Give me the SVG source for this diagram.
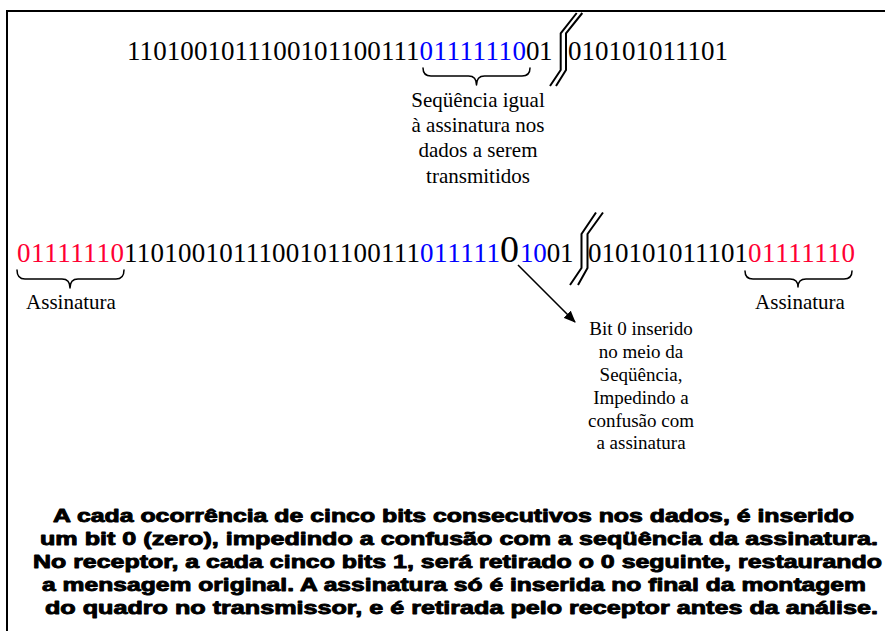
<svg xmlns="http://www.w3.org/2000/svg" width="885" height="631" viewBox="0 0 885 631">
  <style>
    .bits { font-family: "Liberation Serif", "Times New Roman", serif; font-size: 27px; fill: #000; }
    .blue { fill: #0000ff; }
    .red { fill: #ff0033; }
    .label { font-family: "Liberation Serif", "Times New Roman", serif; font-size: 21px; fill: #000; text-anchor: middle; }
    .note { font-family: "Liberation Serif", "Times New Roman", serif; font-size: 19px; fill: #000; text-anchor: middle; }
    .para { font-family: "Liberation Sans", Arial, sans-serif; font-size: 18.5px; font-weight: bold; fill: #000; stroke: #000; stroke-width: 0.9px; stroke-linejoin: round; }
    .brace { fill: none; stroke: #000; stroke-width: 1.5; stroke-linecap: round; stroke-linejoin: round; }
    .cut { fill: none; stroke: #000; stroke-width: 2; stroke-linejoin: miter; }
    .frame { fill: none; stroke: #000; stroke-width: 2; }
    .arrow { fill: none; stroke: #000; stroke-width: 1.6; }
  </style>
  <defs>
    <marker id="head" viewBox="0 0 12 10" refX="11" refY="5" markerWidth="12" markerHeight="10" markerUnits="userSpaceOnUse" orient="auto">
      <path d="M0,0 L12,5 L0,10 Z" fill="#000"/>
    </marker>
  </defs>

  <rect width="885" height="631" fill="#fff"/>

  <!-- frame: top and left edges only -->
  <path class="frame" d="M7,631 V11 H885"/>

  <!-- original data stream -->
  <g id="data-original">
    <text class="bits" x="127" y="60" textLength="292.6" lengthAdjust="spacing">1101001011100101100111</text>
    <text class="bits blue" x="419.6" y="60" textLength="106.4" lengthAdjust="spacing">01111110</text>
    <text class="bits" x="526" y="60" textLength="26.6" lengthAdjust="spacing">01</text>
    <text class="bits" x="568" y="60" textLength="160" lengthAdjust="spacing">010101011101</text>
    <path class="cut" d="M576.7,13 L560.7,33.3 L560.7,70 L550,86"/>
    <path class="cut" d="M582.3,13 L566,33.3 L566,70 L556,86"/>
  </g>

  <g id="brace-sequence">
    <path class="brace" d="M423,68 Q423,76 431,76 L468.5,76 Q476.5,76 476.5,85 Q476.5,76 484.5,76 L522,76 Q530,76 530,68"/>
  </g>

  <g id="label-sequence">
    <text class="label" x="478" y="107">Seqüência igual</text>
    <text class="label" x="478" y="132">à assinatura nos</text>
    <text class="label" x="478" y="157">dados a serem</text>
    <text class="label" x="478" y="183">transmitidos</text>
  </g>

  <!-- stuffed frame -->
  <g id="frame-stuffed">
    <text class="bits red" x="17" y="262" textLength="107" lengthAdjust="spacing">01111110</text>
    <text class="bits" x="124" y="262" textLength="296" lengthAdjust="spacing">1101001011100101100111</text>
    <text class="bits blue" x="420" y="262" textLength="80" lengthAdjust="spacing">011111</text>
    <text class="bits" x="500" y="262" style="font-size:38px">0</text>
    <text class="bits blue" x="520" y="262" textLength="26.7" lengthAdjust="spacing">10</text>
    <text class="bits" x="546.7" y="262" textLength="26.7" lengthAdjust="spacing">01</text>
    <text class="bits" x="588" y="262" textLength="160" lengthAdjust="spacing">010101011101</text>
    <text class="bits red" x="748" y="262" textLength="107" lengthAdjust="spacing">01111110</text>
    <path class="cut" d="M596,212.5 L581.5,234 L581.5,268 L570,285"/>
    <path class="cut" d="M603,212.5 L587.5,234 L587.5,268 L578,285"/>
  </g>

  <g id="brace-start">
    <path class="brace" d="M17,270 Q17,279 25,279 L62,279 Q70,279 70,288 Q70,279 78,279 L116,279 Q124,279 124,270"/>
  </g>
  <g id="label-start">
    <text class="label" x="71" y="309">Assinatura</text>
  </g>

  <g id="brace-end">
    <path class="brace" d="M745,271 Q745,279 753,279 L790,279 Q798,279 798,287 Q798,279 806,279 L844,279 Q852,279 852,271"/>
  </g>
  <g id="label-end">
    <text class="label" x="800" y="309">Assinatura</text>
  </g>

  <g id="note-inserted">
    <text class="note" x="641" y="335">Bit 0 inserido</text>
    <text class="note" x="641" y="358">no meio da</text>
    <text class="note" x="641" y="381">Seqüência,</text>
    <text class="note" x="641" y="403.5">Impedindo a</text>
    <text class="note" x="641" y="426.5">confusão com</text>
    <text class="note" x="641" y="448.5">a assinatura</text>
  </g>

  <g id="connectors">
    <line class="arrow" x1="518" y1="265" x2="575" y2="322" marker-end="url(#head)"/>
  </g>

  <!-- explanation -->
  <g id="explanation">
    <text class="para" x="53" y="522" textLength="801" lengthAdjust="spacingAndGlyphs">A cada ocorrência de cinco bits consecutivos nos dados, é inserido</text>
    <text class="para" x="40" y="545" textLength="838" lengthAdjust="spacingAndGlyphs">um bit 0 (zero), impedindo a confusão com a seqüência da assinatura.</text>
    <text class="para" x="33" y="568" textLength="849" lengthAdjust="spacingAndGlyphs">No receptor, a cada cinco bits 1, será retirado o 0 seguinte, restaurando</text>
    <text class="para" x="42" y="591" textLength="824" lengthAdjust="spacingAndGlyphs">a mensagem original. A assinatura só é inserida no final da montagem</text>
    <text class="para" x="45" y="614" textLength="833" lengthAdjust="spacingAndGlyphs">do quadro no transmissor, e é retirada pelo receptor antes da análise.</text>
  </g>
</svg>
